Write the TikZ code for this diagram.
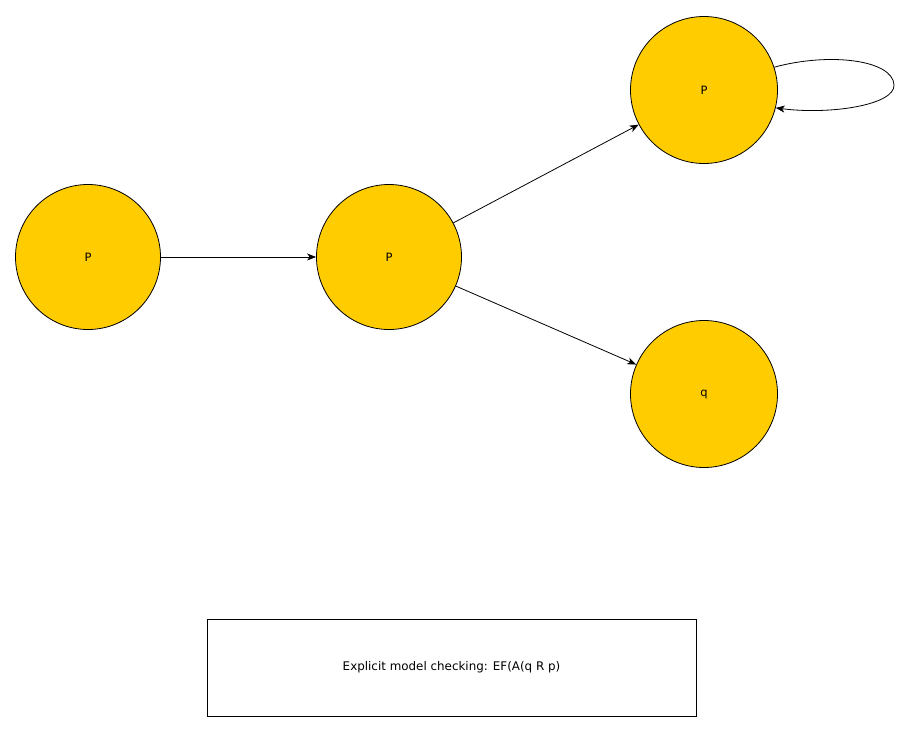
\documentclass[tikz,border=0pt]{standalone}
\usepackage{fontspec}
\setmainfont{DejaVu Sans}
\usetikzlibrary{arrows.meta}
\definecolor{stategold}{HTML}{FFCC00}
\begin{document}
\begin{tikzpicture}[x=1pt,y=-1pt,
  state/.style={circle,draw=black,fill=stategold,line width=0.8pt,minimum size=145pt,inner sep=0pt,font=\fontsize{11.5}{13}\selectfont},
  edge/.style={-{Stealth[length=9pt,width=7pt,inset=2.5pt]},line width=0.8pt},
  caption/.style={draw=black,line width=0.8pt,minimum width=489pt,minimum height=97pt,inner sep=0pt,font=\fontsize{11.9}{14}\selectfont}]
\useasboundingbox (0,0) rectangle (910,732);
\node[state] (a) at (88,257) {P};
\node[state] (b) at (389,257) {P};
\node[state,minimum size=147pt] (c) at (704,90) {P};
\node[state,minimum size=147pt] (d) at (704,394) {q};
\node[caption] (t) at (451.5,667.5) {Explicit model checking: EF(A(q R p)};
\draw[edge] (a) -- (b);
\draw[edge] (b) -- (c);
\draw[edge] (b) -- (d);
\coordinate (lr) at (894,85);
\draw[edge] (c.18) .. controls (830,52) and (893,60) .. (lr) .. controls (895,105) and (830,115) .. (c.-14);
\end{tikzpicture}
\end{document}
